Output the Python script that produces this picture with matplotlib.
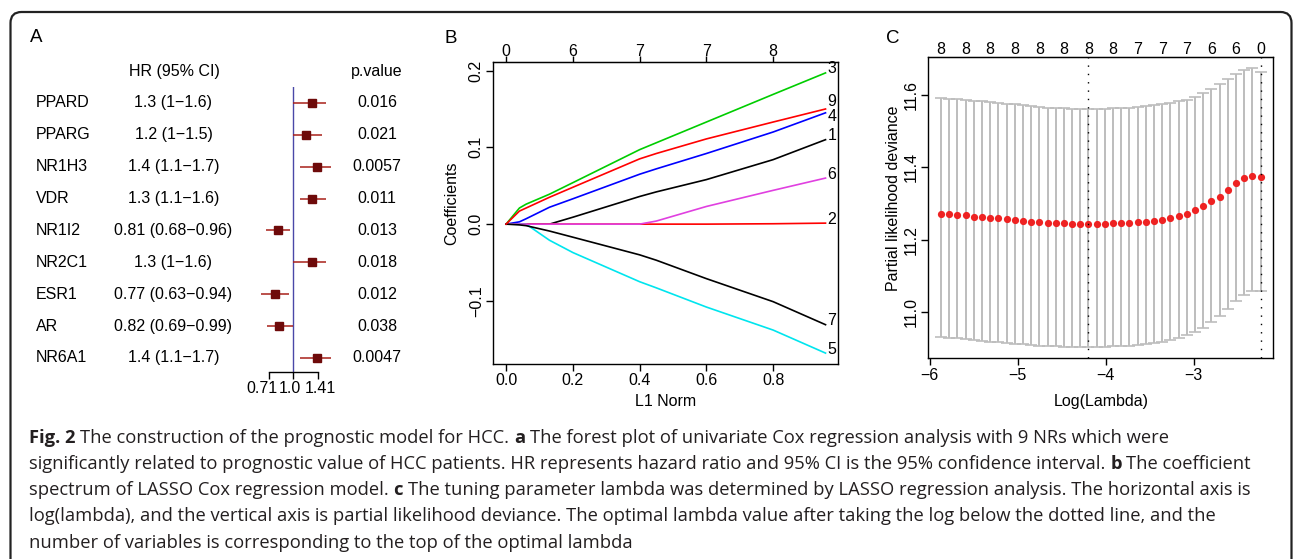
import matplotlib
matplotlib.use("Agg")
from matplotlib import pyplot as plt
from matplotlib import patches as mpatches
from matplotlib import transforms as mtrans

plt.rcParams['font.family'] = ['Liberation Sans', 'DejaVu Sans']

W, H = 1295, 559

# ---- panel A: univariate Cox regression
genes = ['PPARD', 'PPARG', 'NR1H3', 'VDR', 'NR1I2', 'NR2C1', 'ESR1', 'AR', 'NR6A1']
hr = [1.3, 1.2, 1.4, 1.3, 0.81, 1.3, 0.77, 0.82, 1.4]
hr_low = [1.0, 1.0, 1.1, 1.1, 0.68, 1.0, 0.63, 0.69, 1.1]
hr_high = [1.6, 1.5, 1.7, 1.6, 0.96, 1.6, 0.94, 0.99, 1.7]
pvals = ['0.016', '0.021', '0.0057', '0.011', '0.013', '0.018', '0.012', '0.038', '0.0047']
hr_ticks = [0.71, 1.0, 1.41]
hr_tick_labels = ['0.71', '1.0', '1.41']

# ---- panel B: LASSO coefficient paths
l1_norm = [0, 0.04, 0.06, 0.13, 0.2, 0.4, 0.45, 0.6, 0.8, 0.957]
coef_v1 = [0, 0, 0, 0, 0.009, 0.036, 0.042, 0.058, 0.084, 0.110]
coef_v2 = [0, 0, 0, 0, 0, 0, 0, 0, 0.0005, 0.0013]
coef_v3 = [0, 0.021, 0.026, 0.039, 0.054, 0.097, 0.106, 0.133, 0.169, 0.197]
coef_v4 = [0, 0.003, 0.007, 0.022, 0.033, 0.065, 0.072, 0.092, 0.120, 0.145]
coef_v5 = [0, 0, 0, -0.021, -0.037, -0.075, -0.083, -0.108, -0.138, -0.168]
coef_v6 = [0, 0, 0, 0, 0, 0, 0.004, 0.023, 0.044, 0.060]
coef_v7 = [0, -0.001, -0.002, -0.009, -0.017, -0.040, -0.047, -0.071, -0.101, -0.131]
coef_v9 = [0, 0.017, 0.021, 0.035, 0.048, 0.085, 0.092, 0.111, 0.133, 0.150]
df_at = [0, 0.2, 0.4, 0.6, 0.8]
df_labels = [0, 6, 7, 7, 8]

# ---- panel C: cross validation
log_lambda = [-5.872, -5.779, -5.686, -5.592, -5.499, -5.406, -5.313, -5.220, -5.127, -5.033,
              -4.940, -4.847, -4.754, -4.661, -4.567, -4.474, -4.381, -4.288, -4.195, -4.101,
              -4.008, -3.915, -3.822, -3.729, -3.635, -3.542, -3.449, -3.356, -3.263, -3.170,
              -3.076, -2.983, -2.890, -2.797, -2.704, -2.610, -2.517, -2.424, -2.331, -2.238]
cvm = [11.272, 11.271, 11.269, 11.267, 11.264, 11.262, 11.261, 11.259, 11.257, 11.255,
       11.252, 11.250, 11.249, 11.246, 11.245, 11.245, 11.244, 11.244, 11.244, 11.244,
       11.244, 11.245, 11.245, 11.246, 11.248, 11.250, 11.251, 11.255, 11.260, 11.265,
       11.272, 11.282, 11.293, 11.306, 11.319, 11.338, 11.356, 11.370, 11.377, 11.372]
cvup = [11.591, 11.589, 11.587, 11.585, 11.583, 11.582, 11.580, 11.578, 11.575, 11.573,
        11.571, 11.569, 11.566, 11.564, 11.563, 11.562, 11.561, 11.561, 11.561, 11.561,
        11.561, 11.562, 11.563, 11.564, 11.566, 11.569, 11.571, 11.573, 11.577, 11.581,
        11.586, 11.594, 11.605, 11.616, 11.628, 11.644, 11.658, 11.669, 11.672, 11.662]
cvlo = [10.931, 10.930, 10.928, 10.926, 10.923, 10.921, 10.919, 10.918, 10.916, 10.914,
        10.912, 10.910, 10.908, 10.907, 10.906, 10.905, 10.905, 10.904, 10.904, 10.904,
        10.905, 10.906, 10.907, 10.908, 10.910, 10.913, 10.916, 10.919, 10.924, 10.930,
        10.937, 10.946, 10.958, 10.973, 10.989, 11.009, 11.030, 11.049, 11.060, 11.060]
nzero_top = [8, 8, 8, 8, 8, 8, 8, 8, 7, 7, 7, 6, 6, 0]
idx_min = 18
idx_1se = 39


def px_axes(left, top, right, bottom):
    return fig.add_axes([left / W, 1 - bottom / H, (right - left) / W, (bottom - top) / H])


def pad4(vals):
    lo, hi = min(vals), max(vals)
    r = hi - lo
    return lo - 0.04 * r, hi + 0.04 * r


def minus(v, fmt):
    return (fmt % v).replace('-', '\u2212')


fig = plt.figure(figsize=(W / 100, H / 100), dpi=100)

# outer rounded frame
frame = mpatches.FancyBboxPatch((10.5, -30), 1281, 559 - 12 + 30,
                                boxstyle='round,pad=0,rounding_size=11',
                                transform=None, fill=False, lw=1.6, ec='#222222')
fig.patches.append(frame)

TS = 11.5

# ================= A =================
axf = px_axes(240, 87, 345, 372.3)
axf.set_xscale('log')
axf.set_xlim(0.47, 2.08)
axf.set_ylim(8.45, -0.5)
rows = list(range(len(genes)))
axf.axvline(1.0, color='#4A48A8', lw=1.0)
axf.hlines(rows, hr_low, hr_high, color='#A8201A', lw=1.1)
axf.plot(hr, rows, 's', color='#6E0A0A', ms=6.2, mec='#6E0A0A')
for s in ['top', 'left', 'right']:
    axf.spines[s].set_visible(False)
axf.spines['bottom'].set_bounds(hr_ticks[0], hr_ticks[-1])
axf.spines['bottom'].set_linewidth(1.0)
axf.set_yticks([])
axf.xaxis.set_minor_locator(plt.NullLocator())
axf.set_xticks(hr_ticks, labels=hr_tick_labels)
axf.tick_params(axis='x', length=5, width=1.0, pad=1.5, labelsize=TS)
# R spreads the three labels a little apart
for lb, dx in zip(axf.get_xticklabels(), [-7, -3, 3]):
    lb.set_transform(lb.get_transform() + mtrans.ScaledTranslation(dx / 100, 0, fig.dpi_scale_trans))

tr = mtrans.blended_transform_factory(fig.transFigure, axf.transData)
fig.text(36 / W, 1 - 38 / H, 'A', fontsize=13.5, ha='center', va='center')
fig.text(174 / W, -1, 'HR (95% CI)', transform=tr, fontsize=TS, ha='center', va='center')
fig.text(377 / W, -1, 'p.value', transform=tr, fontsize=TS, ha='center', va='center')
for i, g in enumerate(genes):
    fig.text(35.7 / W, i, g, transform=tr, fontsize=TS, ha='left', va='center')
    fig.text(173.5 / W, i, '%g (%g\u2212%g)' % (hr[i], hr_low[i], hr_high[i]),
             transform=tr, fontsize=TS, ha='center', va='center')
    fig.text(377 / W, i, pvals[i], transform=tr, fontsize=TS, ha='center', va='center')

# ================= B =================
axb = px_axes(493.3, 61.7, 838.3, 364.3)
paths = [('1', coef_v1, 'black'), ('2', coef_v2, 'red'), ('3', coef_v3, '#00CD00'),
         ('4', coef_v4, 'blue'), ('5', coef_v5, '#00E5EE'), ('6', coef_v6, '#E040E0'),
         ('7', coef_v7, 'black'), ('9', coef_v9, 'red')]
nudge = {'9': 7, '4': -4}
all_vals = []
for name, vals, col in paths:
    axb.plot(l1_norm, vals, color=col, lw=1.2)
    all_vals += vals
    axb.annotate(name, (l1_norm[-1], vals[-1]), xytext=(1.5, nudge.get(name, 4) * 0.72),
                 textcoords='offset points', fontsize=TS, ha='left', va='center')
axb.set_xlim(*pad4(l1_norm))
axb.set_ylim(*pad4(all_vals))
xt = [0, 0.2, 0.4, 0.6, 0.8]
axb.set_xticks(xt, labels=[minus(v, '%.1f') for v in xt])
yt = [-0.1, 0.0, 0.1, 0.2]
axb.set_yticks(yt, labels=[minus(v, '%.1f') for v in yt])
axb.tick_params(length=4.8, width=1.0, pad=1.5, labelsize=TS)
axb.tick_params(axis='y', labelrotation=90, pad=2)
for lb in axb.get_yticklabels():
    lb.set_va('center')
top_b = axb.secondary_xaxis('top')
top_b.set_xticks(df_at, labels=[str(v) for v in df_labels])
top_b.tick_params(length=4, width=1.0, pad=-2, labelsize=TS)
for s in axb.spines.values():
    s.set_linewidth(1.0)
axb.set_xlabel('L1 Norm', fontsize=TS)
axb.xaxis.set_label_coords(0.5, -0.098)
axb.set_ylabel('Coefficients', fontsize=TS, va='center')
axb.yaxis.set_label_coords(-0.12, 0.533)
fig.text(450.8 / W, 1 - 38.3 / H, 'B', fontsize=13.5, ha='center', va='center')

# ================= C =================
axc = px_axes(928.3, 57.3, 1273.3, 358.3)
err_lo = [m - l for m, l in zip(cvm, cvlo)]
err_hi = [u - m for u, m in zip(cvup, cvm)]
axc.errorbar(log_lambda, cvm, yerr=[err_lo, err_hi], fmt='none', ecolor='#BDBDBD',
             elinewidth=1.4, capsize=4.2, capthick=1.2)
axc.plot(log_lambda, cvm, 'o', color='#EE2222', ms=5.2, mec='none')
axc.axvline(log_lambda[idx_min], color='black', lw=1.0, ls=(0, (1, 5)))
axc.axvline(log_lambda[idx_1se], color='black', lw=1.0, ls=(0, (1, 5)))
axc.set_xlim(*pad4(log_lambda))
axc.set_ylim(*pad4(cvup + cvlo))
xt = [-6, -5, -4, -3]
axc.set_xticks(xt, labels=[minus(v, '%d') for v in xt])
yt = [11.0, 11.2, 11.4, 11.6]
axc.set_yticks(yt, labels=['%.1f' % v for v in yt])
axc.tick_params(length=4.8, width=1.0, pad=2.5, labelsize=TS)
axc.tick_params(axis='y', labelrotation=90, pad=2)
for lb in axc.get_yticklabels():
    lb.set_va('center')
top_c = axc.secondary_xaxis('top')
top_c.set_xticks(log_lambda[::3], labels=[str(v) for v in nzero_top])
top_c.tick_params(length=0, pad=0.5, labelsize=TS)
for s in axc.spines.values():
    s.set_linewidth(1.0)
axc.set_xlabel('Log(Lambda)', fontsize=TS)
axc.xaxis.set_label_coords(0.5, -0.118)
axc.set_ylabel('Partial likelihood deviance', fontsize=TS, va='center')
axc.yaxis.set_label_coords(-0.101, 0.533)
fig.text(892.5 / W, 1 - 38.3 / H, 'C', fontsize=13.5, ha='center', va='center')

# ================= caption =================
cap_lines = [
    [('Fig. 2', True), ('The construction of the prognostic model for HCC.', False), ('a', True),
     ('The forest plot of univariate Cox regression analysis with 9 NRs which were', False)],
    [('significantly related to prognostic value of HCC patients. HR represents hazard ratio and '
      '95% CI is the 95% confidence interval.', False), ('b', True), ('The coefficient', False)],
    [('spectrum of LASSO Cox regression model.', False), ('c', True),
     ('The tuning parameter lambda was determined by LASSO regression analysis. The horizontal axis is', False)],
    [('log(lambda), and the vertical axis is partial likelihood deviance. The optimal lambda value '
      'after taking the log below the dotted line, and the', False)],
    [('number of variables is corresponding to the top of the optimal lambda', False)],
]
renderer = fig.canvas.get_renderer()
cap_font = ['Open Sans', 'DejaVu Sans']


def text_w(s, size, bold):
    t = fig.text(0, 0, s, fontsize=size, fontweight='bold' if bold else 'normal', family=cap_font)
    w = t.get_window_extent(renderer=renderer).width
    t.remove()
    return w


def line_w(parts, size):
    sp = text_w('a a', size, False) - text_w('aa', size, False)
    return sum(text_w(s, size, b) for s, b in parts) + sp * (len(parts) - 1)


size0 = 12.5
cap_size = size0 * (1258 - 29) / line_w(cap_lines[1], size0)
space = text_w('a a', cap_size, False) - text_w('aa', cap_size, False)
for k, parts in enumerate(cap_lines):
    x = 29
    y = 442.7 + k * 26.2
    for s, b in parts:
        fig.text(x / W, 1 - y / H, s, fontsize=cap_size, fontweight='bold' if b else 'normal',
                 family=cap_font, ha='left', va='baseline', color='#231F20')
        x += text_w(s, cap_size, b) + space

fig.savefig('out.png', dpi=100)
